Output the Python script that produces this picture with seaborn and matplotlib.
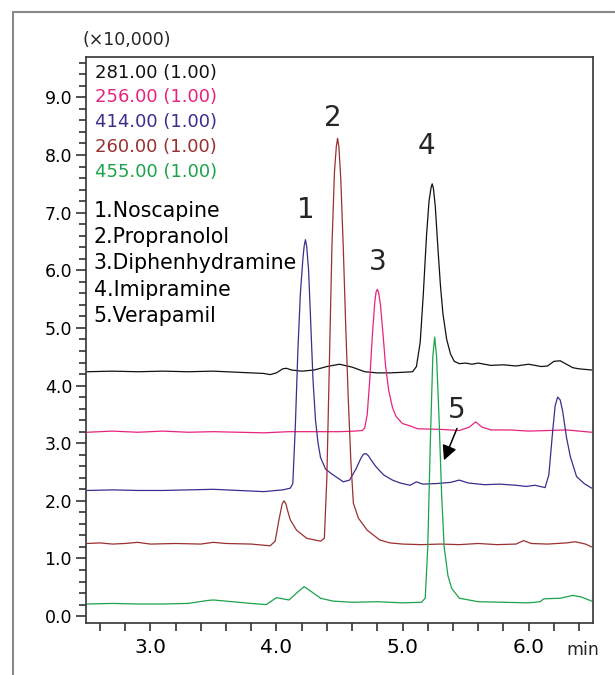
import numpy as np
import pandas as pd
import seaborn as sns
import matplotlib.pyplot as plt
from matplotlib.lines import Line2D

sns.set_style('ticks')
plt.rcParams['font.family'] = ['DejaVu Sans']

# Data (intensity x10,000 vs retention time, min)
t_281 = [2.5, 2.7, 2.9, 3.1, 3.3, 3.5, 3.7, 3.9, 3.95, 4.0, 4.05, 4.08, 4.12, 4.2, 4.3, 4.4,
         4.5, 4.6, 4.7, 4.8, 4.9, 5.0, 5.08, 5.11, 5.14, 5.165, 5.19, 5.21, 5.225, 5.235,
         5.245, 5.26, 5.28, 5.30, 5.32, 5.35, 5.38, 5.41, 5.45, 5.5, 5.55, 5.6, 5.7, 5.8,
         5.9, 6.0, 6.1, 6.15, 6.2, 6.25, 6.3, 6.35, 6.4, 6.5]
i_281 = [4.24, 4.25, 4.24, 4.25, 4.24, 4.25, 4.23, 4.21, 4.19, 4.22, 4.29, 4.30, 4.27, 4.25,
         4.27, 4.33, 4.37, 4.32, 4.24, 4.22, 4.22, 4.23, 4.24, 4.33, 4.75, 5.6, 6.6, 7.2,
         7.42, 7.5, 7.42, 7.1, 6.4, 5.75, 5.25, 4.8, 4.55, 4.42, 4.38, 4.39, 4.37, 4.39,
         4.35, 4.36, 4.34, 4.37, 4.33, 4.34, 4.42, 4.43, 4.37, 4.31, 4.29, 4.27]

t_256 = [2.5, 2.7, 2.9, 3.1, 3.3, 3.5, 3.7, 3.9, 4.1, 4.3, 4.5, 4.62, 4.68, 4.70, 4.72,
         4.74, 4.76, 4.78, 4.79, 4.80, 4.81, 4.825, 4.845, 4.865, 4.89, 4.92, 4.95, 5.0,
         5.06, 5.12, 5.3, 5.45, 5.53, 5.58, 5.63, 5.7, 5.85, 6.0, 6.15, 6.3, 6.4, 6.5]
i_256 = [3.19, 3.21, 3.19, 3.21, 3.19, 3.20, 3.19, 3.18, 3.20, 3.20, 3.20, 3.21, 3.22,
         3.26, 3.5, 4.1, 4.85, 5.45, 5.62, 5.67, 5.62, 5.4, 4.9, 4.35, 3.92, 3.62, 3.46,
         3.34, 3.3, 3.25, 3.24, 3.22, 3.28, 3.37, 3.28, 3.23, 3.23, 3.21, 3.22, 3.23, 3.21,
         3.19]

t_414 = [2.5, 2.7, 2.9, 3.1, 3.3, 3.5, 3.7, 3.9, 3.95, 4.05, 4.11, 4.13, 4.15, 4.17, 4.19,
         4.21, 4.22, 4.23, 4.24, 4.255, 4.27, 4.29, 4.31, 4.33, 4.35, 4.39, 4.43, 4.47, 4.53,
         4.58, 4.63, 4.67, 4.69, 4.71, 4.73, 4.76, 4.79, 4.85, 4.92, 4.98, 5.06, 5.11, 5.16,
         5.27, 5.38, 5.45, 5.52, 5.65, 5.77, 5.9, 5.98, 6.05, 6.13, 6.16, 6.19, 6.21, 6.23,
         6.25, 6.27, 6.30, 6.33, 6.38, 6.44, 6.5]
i_414 = [2.18, 2.19, 2.18, 2.18, 2.19, 2.2, 2.18, 2.16, 2.17, 2.19, 2.22, 2.3, 3.3, 4.6,
         5.6, 6.2, 6.42, 6.53, 6.42, 6.0, 5.2, 4.1, 3.4, 3.0, 2.75, 2.55, 2.48, 2.42, 2.33,
         2.36, 2.55, 2.74, 2.81, 2.82, 2.78, 2.68, 2.59, 2.45, 2.36, 2.31, 2.27, 2.33, 2.29,
         2.3, 2.32, 2.36, 2.31, 2.28, 2.29, 2.27, 2.25, 2.27, 2.23, 2.45, 3.2, 3.65, 3.8,
         3.75, 3.55, 3.1, 2.77, 2.42, 2.3, 2.22]

t_260 = [2.5, 2.6, 2.7, 2.8, 2.9, 3.0, 3.2, 3.4, 3.5, 3.6, 3.8, 3.9, 3.95, 3.99, 4.02,
         4.045, 4.06, 4.075, 4.09, 4.11, 4.16, 4.24, 4.35, 4.38, 4.40, 4.42, 4.44, 4.46,
         4.475, 4.485, 4.495, 4.51, 4.53, 4.55, 4.57, 4.59, 4.61, 4.65, 4.72, 4.82, 4.9,
         5.0, 5.15, 5.3, 5.45, 5.6, 5.75, 5.9, 5.96, 6.02, 6.15, 6.3, 6.37, 6.45, 6.5]
i_260 = [1.26, 1.27, 1.25, 1.26, 1.28, 1.25, 1.26, 1.25, 1.28, 1.26, 1.25, 1.23, 1.22,
         1.3, 1.67, 1.94, 2.0, 1.95, 1.82, 1.67, 1.49, 1.35, 1.3, 1.35, 2.4, 4.4, 6.4, 7.7,
         8.15, 8.29, 8.15, 7.6, 6.4, 5.0, 3.75, 2.7, 1.96, 1.7, 1.49, 1.32, 1.27, 1.25,
         1.24, 1.25, 1.24, 1.26, 1.24, 1.25, 1.31, 1.26, 1.25, 1.27, 1.29, 1.25, 1.2]

t_455 = [2.5, 2.7, 2.9, 3.1, 3.3, 3.45, 3.5, 3.6, 3.8, 3.92, 4.0, 4.05, 4.1, 4.17, 4.22,
         4.28, 4.35, 4.45, 4.6, 4.8, 5.0, 5.15, 5.18, 5.20, 5.22, 5.24, 5.255, 5.27, 5.29,
         5.31, 5.33, 5.36, 5.39, 5.45, 5.6, 5.8, 6.0, 6.09, 6.12, 6.25, 6.35, 6.42, 6.5]
i_455 = [0.21, 0.22, 0.21, 0.21, 0.22, 0.27, 0.28, 0.26, 0.22, 0.2, 0.32, 0.3, 0.28, 0.42,
         0.51, 0.42, 0.31, 0.26, 0.24, 0.25, 0.23, 0.24, 0.31, 1.2, 3.0, 4.5, 4.84, 4.5,
         3.4, 2.1, 1.2, 0.7, 0.48, 0.31, 0.25, 0.24, 0.23, 0.25, 0.3, 0.31, 0.36, 0.33, 0.26]

masses = ['281.00', '256.00', '414.00', '260.00', '455.00']
colors = ['#111111', '#E8237F', '#3E2B8E', '#9A3030', '#1BA34A']
compounds = ['1.Noscapine', '2.Propranolol', '3.Diphenhydramine', '4.Imipramine',
             '5.Verapamil']
peak_labels = ['1', '2', '3', '4']
peak_x = [4.23, 4.45, 4.80, 5.19]
peak_y = [7.05, 8.64, 6.15, 8.15]

traces = [(t_281, i_281), (t_256, i_256), (t_414, i_414), (t_260, i_260), (t_455, i_455)]
df = pd.concat([pd.DataFrame({'Time': t, 'Intensity': i, 'Mass': m})
                for (t, i), m in zip(traces, masses)], ignore_index=True)

fig = plt.figure(figsize=(6.15, 6.75), dpi=100)
ax = fig.add_axes([0.1398, 0.077, 0.8244, 0.8385])

sns.lineplot(data=df, x='Time', y='Intensity', hue='Mass', hue_order=masses,
             palette=dict(zip(masses, colors)), estimator=None, linewidth=0.9,
             legend=False, ax=ax)

ax.set_xlim(2.49, 6.51)
ax.set_ylim(-0.12, 9.7)
ax.set_xticks([3, 4, 5, 6])
ax.set_xticks(np.arange(2.6, 6.45, 0.2), minor=True)
ax.set_yticks(np.arange(0, 10, 1))
ax.set_yticks(np.arange(0, 9.7, 0.2), minor=True)
ax.set_xticklabels(['%.1f' % v for v in [3, 4, 5, 6]], fontsize=14.5)
ax.set_yticklabels(['%.1f' % v for v in range(10)], fontsize=12.5)
ax.tick_params(axis='x', which='both', length=6, width=1.1, color='#222222', pad=5,
               labelcolor='black')
ax.tick_params(axis='y', which='major', length=7, width=1.1, color='#222222', pad=3,
               labelcolor='black')
ax.tick_params(axis='y', which='minor', length=5, width=1.1, color='#222222')
ax.set(xlabel='', ylabel='')
for s in ax.spines.values():
    s.set_color('#333333')
    s.set_linewidth(1.2)

# mass channel list and compound names
for k, (m, c) in enumerate(zip(masses, colors)):
    ax.text(2.565, 9.43 - k * 0.43, m + ' (1.00)', color=c, fontsize=13, va='center')
for k, name in enumerate(compounds):
    ax.text(2.55, 7.03 - k * 0.455, name, color='black', fontsize=14.8, va='center')

for lab, x, y in zip(peak_labels, peak_x, peak_y):
    ax.text(x, y, lab, fontsize=20, ha='center', va='center')
ax.text(5.43, 3.58, '5', fontsize=20, ha='center', va='center')
ax.annotate('', xy=(5.32, 2.66), xytext=(5.44, 3.30),
            arrowprops=dict(arrowstyle='-|>', color='black', lw=1.1, mutation_scale=22))

ax.text(-0.006, 1.03, '(\u00d710,000)', transform=ax.transAxes, fontsize=12.5,
        va='center', ha='left')
ax.text(0.98, -0.048, 'min', transform=ax.transAxes, fontsize=12.5,
        va='center', ha='center')

# outer frame
fig.add_artist(Line2D([0.021, 1.0], [0.982, 0.982], color='#888888', lw=1.5,
                      transform=fig.transFigure))
fig.add_artist(Line2D([0.021, 0.021], [0.0, 0.982], color='#888888', lw=1.5,
                      transform=fig.transFigure))

plt.savefig('out.png', dpi=100)
